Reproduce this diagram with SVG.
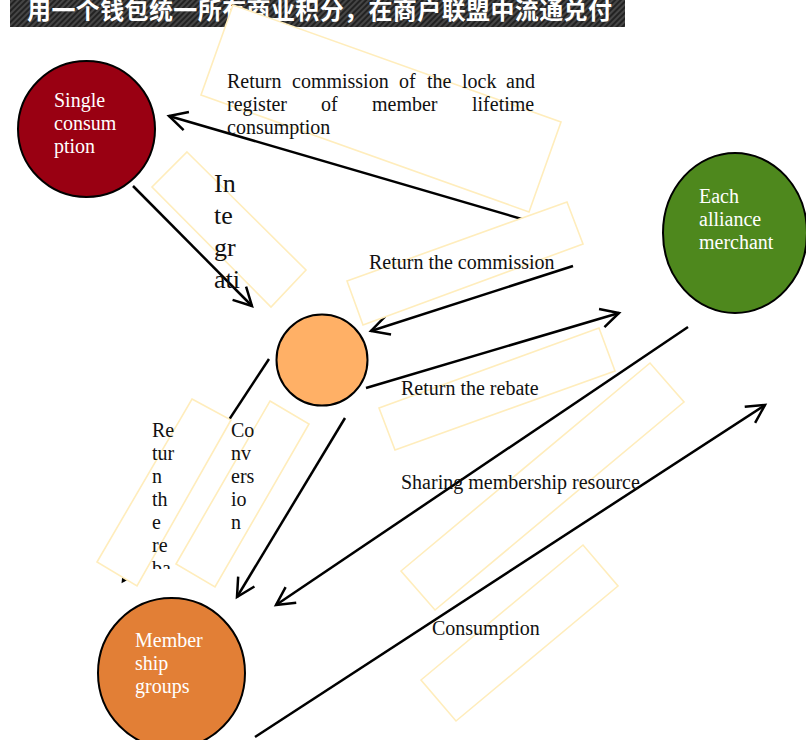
<svg xmlns="http://www.w3.org/2000/svg" width="806" height="740" viewBox="0 0 806 740">
  <defs>
    <pattern id="hatch" width="4" height="4" patternUnits="userSpaceOnUse" patternTransform="rotate(45)">
      <rect width="4" height="4" fill="#222"/>
      <line x1="1" y1="0" x2="1" y2="4" stroke="#555" stroke-width="1.4"/>
    </pattern>
    <marker id="arrow" viewBox="-22 -12 26 24" markerWidth="26" markerHeight="24" refX="0" refY="0" orient="auto" markerUnits="userSpaceOnUse">
      <path d="M-18,-9.5 L0,0 L-18,9.5" fill="none" stroke="#000" stroke-width="2.5"/>
    </marker>
    <clipPath id="clipRebate"><rect x="90" y="400" width="120" height="169"/></clipPath>
    <clipPath id="clipIntegr"><rect x="200" y="160" width="80" height="134"/></clipPath>
  </defs>
  <style>
    .conn { fill: none; stroke: #000; stroke-width: 2.5; marker-end: url(#arrow); }
    .node { stroke: #000; stroke-width: 2; }
    .box { fill: #fff; stroke: #FFEDBC; stroke-width: 1.6; }
    .lbl { font-family: "Liberation Serif", "Times New Roman", serif; font-size: 20px; fill: #111; }
    .ntxt { font-family: "Liberation Serif", "Times New Roman", serif; font-size: 20px; fill: #fff; }
  </style>

  <rect width="806" height="740" fill="#fff"/>

  <!-- title banner -->
  <g id="banner">
    <rect x="10" y="0" width="615" height="27" fill="url(#hatch)"/>
    <text x="27" y="19" textLength="585" lengthAdjust="spacing" font-family="'Noto Sans CJK SC', sans-serif" font-weight="bold" font-size="24" fill="#fff">用一个钱包统一所有商业积分，在商户联盟中流通兑付</text>
  </g>

  <!-- connectors -->
  <g id="connectors">
    <line class="conn" x1="556" y1="229" x2="169" y2="116"/>
    <line class="conn" x1="133" y1="186" x2="252" y2="306"/>
    <line class="conn" x1="573" y1="266" x2="371" y2="331"/>
    <line class="conn" x1="366" y1="388" x2="619" y2="313"/>
    <line class="conn" x1="688" y1="327" x2="276" y2="605"/>
    <line class="conn" x1="345" y1="418" x2="237" y2="597"/>
    <line class="conn" x1="269" y1="359" x2="123" y2="581"/>
    <line class="conn" x1="255" y1="737" x2="765" y2="405"/>
  </g>

  <!-- nodes -->
  <g id="node-single">
    <ellipse class="node" cx="86.5" cy="129" rx="68.5" ry="68" fill="#990012"/>
    <text class="ntxt" x="54" y="107">Single</text>
    <text class="ntxt" x="54" y="130">consum</text>
    <text class="ntxt" x="54" y="153">ption</text>
  </g>
  <g id="node-center">
    <circle class="node" cx="322" cy="360" r="45.5" fill="#FFB066"/>
  </g>
  <g id="node-merchant">
    <ellipse class="node" cx="735" cy="233" rx="72" ry="80" fill="#4E881D"/>
    <text class="ntxt" x="699" y="203">Each</text>
    <text class="ntxt" x="699" y="226">alliance</text>
    <text class="ntxt" x="699" y="249">merchant</text>
  </g>
  <g id="node-members">
    <ellipse class="node" cx="171.5" cy="673" rx="73.5" ry="75" fill="#E27F36"/>
    <text class="ntxt" x="135" y="647">Member</text>
    <text class="ntxt" x="135" y="670">ship</text>
    <text class="ntxt" x="135" y="693">groups</text>
  </g>

  <!-- connector labels -->
  <g id="label-lock">
    <polygon class="box" points="233,5 561,122 529,212 201,95"/>
    <text class="lbl" y="88"><tspan x="227">Return</tspan><tspan x="292">commission</tspan><tspan x="399">of</tspan><tspan x="427">the</tspan><tspan x="462">lock</tspan><tspan x="506">and</tspan></text>
    <text class="lbl" y="111"><tspan x="227">register</tspan><tspan x="321">of</tspan><tspan x="372">member</tspan><tspan x="472">lifetime</tspan></text>
    <text class="lbl" x="227" y="134">consumption</text>
  </g>
  <g id="label-integration">
    <polygon class="box" style="fill:none" points="187,152 306,270 271,307 152,187"/>
    <g clip-path="url(#clipIntegr)" font-family="'Liberation Serif', serif" font-size="26" fill="#111">
      <text x="214" y="192">In</text>
      <text x="214" y="224">te</text>
      <text x="214" y="256">gr</text>
      <text x="214" y="288">ati</text>
      <text x="214" y="320">on</text>
    </g>
  </g>
  <g id="label-commission">
    <polygon class="box" points="347,281 567,202 583,244 363,325"/>
    <text class="lbl" x="369" y="269">Return the commission</text>
  </g>
  <g id="label-rebate">
    <polygon class="box" points="379,408 599,328 615,371 395,450"/>
    <text class="lbl" x="401" y="395">Return the rebate</text>
  </g>
  <g id="label-sharing">
    <polygon class="box" points="401,571 650,363 684,402 435,610"/>
    <text class="lbl" x="401" y="489">Sharing membership resource</text>
  </g>
  <g id="label-consumption">
    <polygon class="box" points="421,680 583,545 618,586 456,721"/>
    <text class="lbl" x="432" y="635">Consumption</text>
  </g>
  <g id="label-return-rebate">
    <polygon class="box" points="192,399 231,420 137,586 97,562"/>
    <g clip-path="url(#clipRebate)">
      <text class="lbl" x="152" y="437">Re</text>
      <text class="lbl" x="152" y="460">tur</text>
      <text class="lbl" x="152" y="483">n</text>
      <text class="lbl" x="152" y="506">th</text>
      <text class="lbl" x="152" y="529">e</text>
      <text class="lbl" x="152" y="552">re</text>
      <text class="lbl" x="152" y="575">ba</text>
    </g>
  </g>
  <g id="label-conversion">
    <polygon class="box" points="270,401 309,424 215,587 176,564"/>
    <text class="lbl" x="231" y="437">Co</text>
    <text class="lbl" x="231" y="460">nv</text>
    <text class="lbl" x="231" y="483">ers</text>
    <text class="lbl" x="231" y="506">io</text>
    <text class="lbl" x="231" y="529">n</text>
  </g>
</svg>
